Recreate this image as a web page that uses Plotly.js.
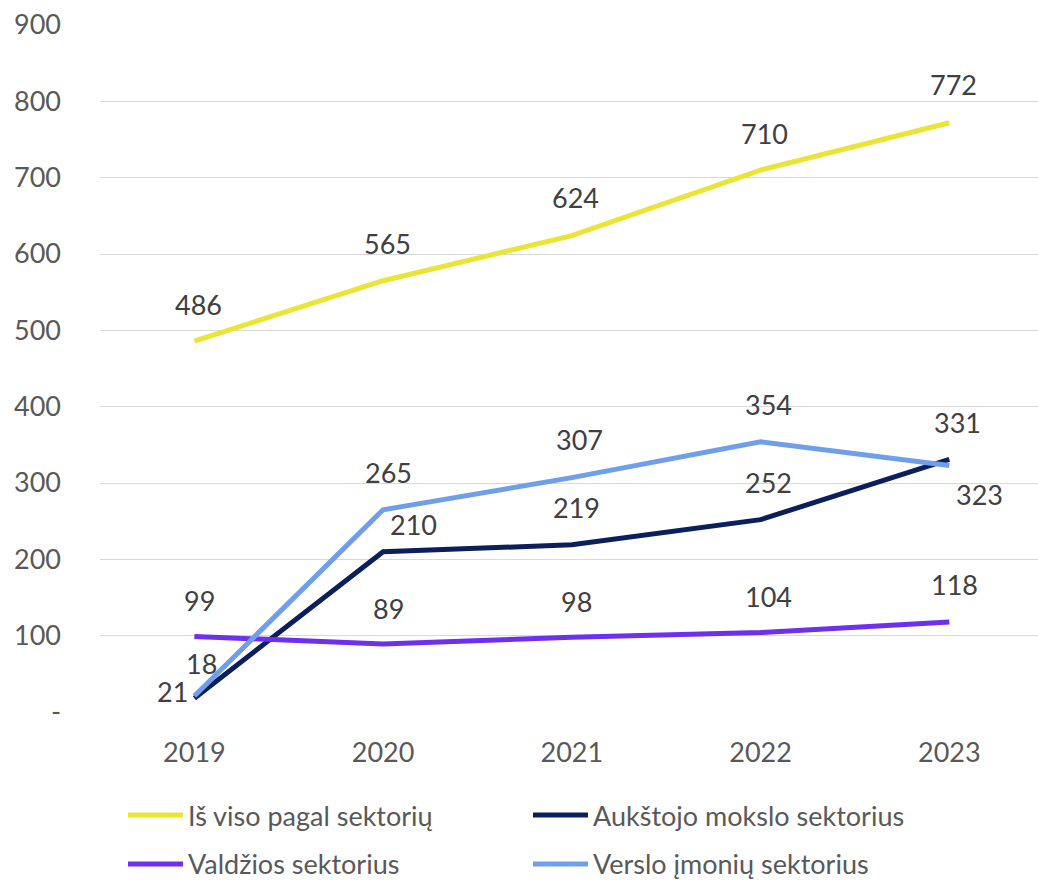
<!DOCTYPE html>
<html>
<head>
<meta charset="utf-8">
<script src="https://cdn.plot.ly/plotly-3.0.1.min.js"></script>
<style>html,body{margin:0;padding:0;background:#fff;}#chart{width:1038px;height:884px;}</style>
</head>
<body>
<div id="chart"></div>
<script>
const years = ['2019', '2020', '2021', '2022', '2023'];
const seriesNames = ['Iš viso pagal sektorių', 'Aukštojo mokslo sektorius', 'Valdžios sektorius', 'Verslo įmonių sektorius'];
const total = [486, 565, 624, 710, 772];
const higherEdu = [18, 210, 219, 252, 331];
const government = [99, 89, 98, 104, 118];
const business = [21, 265, 307, 354, 323];
const yTickVals = [0, 100, 200, 300, 400, 500, 600, 700, 800, 900];
const yTickText = ['-', '100', '200', '300', '400', '500', '600', '700', '800', '900'];

const colors = ['#E9E436', '#0B1F5C', '#6D2FF0', '#6F9FEB'];
const allSeries = [total, higherEdu, government, business];
const legends = ['legend', 'legend', 'legend2', 'legend2'];

const FONT = 'Lato, "Open Sans", sans-serif';

const traces = allSeries.map((vals, i) => ({
  x: years, y: vals, name: seriesNames[i], type: 'scatter', mode: 'lines',
  line: {color: colors[i], width: 5}, legend: legends[i], hoverinfo: 'skip'
}));

// label offsets (px) in the order of allSeries
const offsets = [
  [[4,37],[4,37],[4,38],[4,37],[4,38]],
  [[7,35],[30,27],[5,37],[8,37],[8,37]],
  [[5,36],[5,36],[5,36],[8,36],[5,37]],
  [[-22,4],[5,37],[8,38],[8,37],[30,-29]]
];
const annotations = [];
allSeries.forEach((vals, i) => {
  vals.forEach((v, j) => {
    annotations.push({
      x: j, y: v, xref: 'x', yref: 'y', text: String(v), showarrow: false,
      xshift: offsets[i][j][0], yshift: offsets[i][j][1],
      font: {family: FONT, size: 27, color: '#404040'}
    });
  });
});

const legendCommon = {
  orientation: 'h', x: 0.0245, xanchor: 'left', yanchor: 'bottom',
  entrywidth: 335, entrywidthmode: 'pixels', itemwidth: 55,
  font: {family: FONT, size: 27, color: '#595959'}, bgcolor: 'rgba(0,0,0,0)'
};

const layout = {
  width: 1038, height: 884,
  margin: {l: 100, r: 0, t: 25, b: 172, autoexpand: false},
  paper_bgcolor: '#fff', plot_bgcolor: '#fff',
  font: {family: FONT, size: 27, color: '#595959'},
  xaxis: {
    type: 'category', range: [-0.5, 4.47], showgrid: false, zeroline: false,
    showline: false, ticks: '', ticklabelstandoff: 22,
    tickfont: {family: FONT, size: 27, color: '#595959'}
  },
  yaxis: {
    range: [0, 900], tickvals: yTickVals, ticktext: yTickText,
    showgrid: true, gridcolor: '#D9D9D9', gridwidth: 1, zeroline: false,
    showline: false, ticks: '', ticklabelstandoff: 38,
    tickfont: {family: FONT, size: 27, color: '#595959'}
  },
  showlegend: true,
  legend: Object.assign({}, legendCommon, {y: -0.1863}),
  legend2: Object.assign({}, legendCommon, {y: -0.2575}),
  annotations: annotations
};

Plotly.newPlot('chart', traces, layout, {displayModeBar: false, staticPlot: true});
</script>
</body>
</html>
